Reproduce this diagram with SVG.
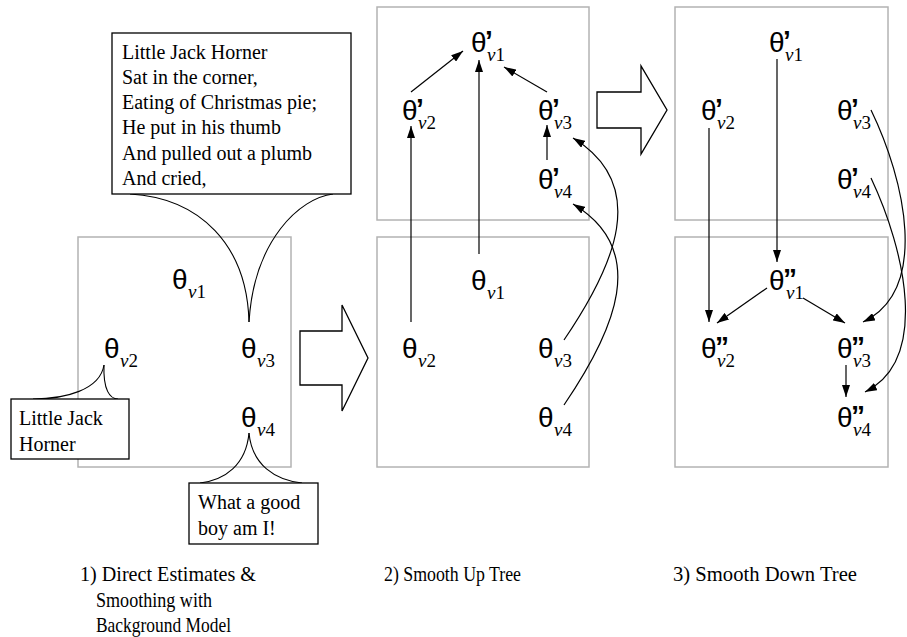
<svg xmlns="http://www.w3.org/2000/svg" width="907" height="637" viewBox="0 0 907 637">
<style>
.panel{fill:none;stroke:#b3b3b3;stroke-width:1.5}
.th{font-family:"Liberation Sans",Arial,sans-serif;font-size:28px;fill:#000}
.pr{font-weight:bold}
.sub{font-family:"Liberation Serif","Times New Roman",serif;font-size:19px}
.i{font-style:italic}
.box{fill:#fff;stroke:#000;stroke-width:1.3}
.tail{fill:none;stroke:#000;stroke-width:1.1}
.txt{font-family:"Liberation Serif","Times New Roman",serif;font-size:20px;fill:#000}
.lab{font-family:"Liberation Serif","Times New Roman",serif;font-size:22px;fill:#000}
.big{fill:#fff;stroke:#000;stroke-width:1.3}
.c{fill:none;stroke:#000;stroke-width:1.2}
</style>
<defs>
<marker id="ah" viewBox="0 0 12 8" refX="12" refY="4" markerWidth="12" markerHeight="8" orient="auto" markerUnits="userSpaceOnUse"><path d="M0,0 L12,4 L0,8 z" fill="#000"/></marker>
</defs>

<!-- panels -->
<g id="panels">
<rect class="panel" x="78" y="237" width="213" height="230"/>
<rect class="panel" x="377" y="7" width="212" height="213"/>
<rect class="panel" x="377" y="237" width="212" height="230"/>
<rect class="panel" x="675" y="7" width="213" height="213"/>
<rect class="panel" x="675" y="237" width="213" height="230"/>
</g>

<!-- hollow arrows -->
<g id="bigarrow1"><polygon class="big" points="300,331 342,331 342,305 368,358 342,411 342,385 300,385"/></g>
<g id="bigarrow2"><polygon class="big" points="597,92 641,92 641,66 667,110 641,154 641,128 597,128"/></g>

<!-- panel 1 nodes -->
<g id="p1-v1"><text class="th" x="172" y="289">θ<tspan class="sub" x="188" y="298"><tspan class="i">v</tspan>1</tspan></text></g>
<g id="p1-v2"><text class="th" x="104" y="358">θ<tspan class="sub" x="120" y="367"><tspan class="i">v</tspan>2</tspan></text></g>
<g id="p1-v3"><text class="th" x="241" y="358">θ<tspan class="sub" x="257" y="367"><tspan class="i">v</tspan>3</tspan></text></g>
<g id="p1-v4"><text class="th" x="241" y="427">θ<tspan class="sub" x="257" y="436"><tspan class="i">v</tspan>4</tspan></text></g>

<!-- callouts -->
<g id="callout-poem">
<path class="tail" d="M130,194 C200,198 247,245 249,322"/>
<path class="tail" d="M333,194 C300,198 254,240 249,322"/>
<rect class="box" x="112" y="33" width="239" height="161"/>
<text class="txt" x="122" y="59">Little Jack Horner</text>
<text class="txt" x="122" y="84">Sat in the corner,</text>
<text class="txt" x="122" y="109">Eating of Christmas pie;</text>
<text class="txt" x="122" y="134">He put in his thumb</text>
<text class="txt" x="122" y="160">And pulled out a plumb</text>
<text class="txt" x="122" y="185">And cried,</text>
</g>
<g id="callout-ljh">
<path class="tail" d="M104,365 C100,390 65,399 33,399"/>
<path class="tail" d="M104,365 C103,390 110,399 118,399"/>
<rect class="box" x="11" y="399" width="118" height="60"/>
<text class="txt" x="19" y="425">Little Jack</text>
<text class="txt" x="19" y="451">Horner</text>
</g>
<g id="callout-boy">
<path class="tail" d="M249,433 C246,465 225,480 200,483"/>
<path class="tail" d="M249,433 C252,465 275,480 302,483"/>
<rect class="box" x="189" y="483" width="129" height="61"/>
<text class="txt" x="198" y="509">What a good</text>
<text class="txt" x="198" y="535">boy am I!</text>
</g>

<!-- panel 2 nodes -->
<g id="p2-t1"><text class="th" x="471" y="52">θ<tspan class="pr" x="485" y="50">’</tspan><tspan class="sub" x="487" y="61"><tspan class="i">v</tspan>1</tspan></text></g>
<g id="p2-t2"><text class="th" x="402" y="120">θ<tspan class="pr" x="416" y="118">’</tspan><tspan class="sub" x="418" y="129"><tspan class="i">v</tspan>2</tspan></text></g>
<g id="p2-t3"><text class="th" x="538" y="120">θ<tspan class="pr" x="552" y="118">’</tspan><tspan class="sub" x="554" y="129"><tspan class="i">v</tspan>3</tspan></text></g>
<g id="p2-t4"><text class="th" x="538" y="189">θ<tspan class="pr" x="552" y="187">’</tspan><tspan class="sub" x="554" y="198"><tspan class="i">v</tspan>4</tspan></text></g>
<g id="p2-b1"><text class="th" x="471" y="290">θ<tspan class="sub" x="487" y="299"><tspan class="i">v</tspan>1</tspan></text></g>
<g id="p2-b2"><text class="th" x="402" y="358">θ<tspan class="sub" x="418" y="367"><tspan class="i">v</tspan>2</tspan></text></g>
<g id="p2-b3"><text class="th" x="538" y="358">θ<tspan class="sub" x="554" y="367"><tspan class="i">v</tspan>3</tspan></text></g>
<g id="p2-b4"><text class="th" x="538" y="427">θ<tspan class="sub" x="554" y="436"><tspan class="i">v</tspan>4</tspan></text></g>

<!-- panel 3 nodes -->
<g id="p3-t1"><text class="th" x="769" y="52">θ<tspan class="pr" x="783" y="50">’</tspan><tspan class="sub" x="785" y="61"><tspan class="i">v</tspan>1</tspan></text></g>
<g id="p3-t2"><text class="th" x="701" y="120">θ<tspan class="pr" x="715" y="118">’</tspan><tspan class="sub" x="717" y="129"><tspan class="i">v</tspan>2</tspan></text></g>
<g id="p3-t3"><text class="th" x="837" y="120">θ<tspan class="pr" x="851" y="118">’</tspan><tspan class="sub" x="853" y="129"><tspan class="i">v</tspan>3</tspan></text></g>
<g id="p3-t4"><text class="th" x="837" y="189">θ<tspan class="pr" x="851" y="187">’</tspan><tspan class="sub" x="853" y="198"><tspan class="i">v</tspan>4</tspan></text></g>
<g id="p3-b1"><text class="th" x="769" y="290">θ<tspan class="pr" x="783" y="288">”</tspan><tspan class="sub" x="786" y="299"><tspan class="i">v</tspan>1</tspan></text></g>
<g id="p3-b2"><text class="th" x="701" y="358">θ<tspan class="pr" x="715" y="356">”</tspan><tspan class="sub" x="717" y="367"><tspan class="i">v</tspan>2</tspan></text></g>
<g id="p3-b3"><text class="th" x="837" y="358">θ<tspan class="pr" x="851" y="356">”</tspan><tspan class="sub" x="853" y="367"><tspan class="i">v</tspan>3</tspan></text></g>
<g id="p3-b4"><text class="th" x="837" y="427">θ<tspan class="pr" x="851" y="425">”</tspan><tspan class="sub" x="853" y="436"><tspan class="i">v</tspan>4</tspan></text></g>

<!-- connectors -->
<g id="connectors" marker-end="url(#ah)">
<path class="c" d="M411,92 L463,51"/>
<path class="c" d="M479,254 L479,60"/>
<path class="c" d="M547,92 L504,67"/>
<path class="c" d="M547,160 L547,125"/>
<path class="c" d="M411,322 L411,126"/>
<path class="c" d="M564,340 C615,265 650,185 573,138"/>
<path class="c" d="M564,405 C615,330 650,250 573,204"/>
<path class="c" d="M777,59 L777,262"/>
<path class="c" d="M709,128 L709,322"/>
<path class="c" d="M767,288 L717,323"/>
<path class="c" d="M803,298 L845,323"/>
<path class="c" d="M846,365 L846,397"/>
<path class="c" d="M871,110 C905,180 930,290 863,322"/>
<path class="c" d="M871,178 C905,250 930,360 865,392"/>
</g>

<!-- labels -->
<g id="labels">
<text class="lab" x="80" y="581" textLength="176" lengthAdjust="spacingAndGlyphs">1) Direct Estimates &amp;</text>
<text class="lab" x="96" y="607" textLength="116" lengthAdjust="spacingAndGlyphs">Smoothing with</text>
<text class="lab" x="96" y="632" textLength="135" lengthAdjust="spacingAndGlyphs">Background Model</text>
<text class="lab" x="384" y="581" textLength="137" lengthAdjust="spacingAndGlyphs">2) Smooth Up Tree</text>
<text class="lab" x="673" y="581" textLength="184" lengthAdjust="spacingAndGlyphs">3) Smooth Down Tree</text>
</g>
</svg>
